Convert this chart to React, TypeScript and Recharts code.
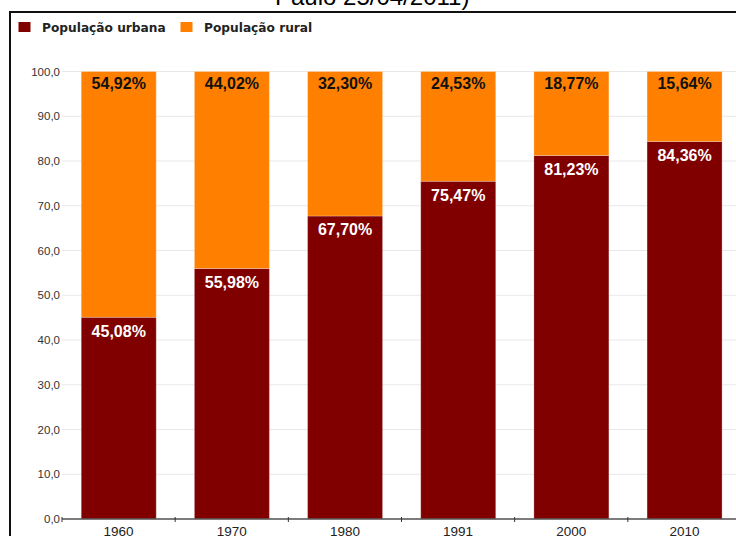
import React from 'react';
import { BarChart, Bar, XAxis, YAxis, CartesianGrid, LabelList } from 'recharts';

const categories = ['1960', '1970', '1980', '1991', '2000', '2010'];
const urbana = [45.08, 55.98, 67.7, 75.47, 81.23, 84.36];
const rural = [54.92, 44.02, 32.3, 24.53, 18.77, 15.64];
const yTicks = [0, 10, 20, 30, 40, 50, 60, 70, 80, 90, 100];
const seriesNames = ['População urbana', 'População rural'];
const seriesColors = ['#800000', '#ff8000'];
const titleText = 'Paulo 25/04/2011)';

const data = categories.map((c, i) => ({ cat: c, urbana: urbana[i], rural: rural[i] }));

const CHART_W = 760;
const CHART_H = 541;
const Y_AXIS_W = 62;
const MARGIN_RIGHT = 19;
const PLOT_W = CHART_W - Y_AXIS_W - MARGIN_RIGHT;
const FONT = '"Liberation Sans", Arial, sans-serif';

const fmtTick = (v: number) => v.toFixed(1).replace('.', ',');
const fmtPct = (v: any) => Number(v).toFixed(2).replace('.', ',') + '%';

const XTick = (props: any) => {
  const { x, y, payload } = props;
  const step = PLOT_W / categories.length;
  const bx = x - step / 2;
  return (
    <g>
      <line x1={bx} x2={bx} y1={y - 2} y2={y + 3} stroke="#333" strokeWidth={1} />
      <text x={x} y={y + 17} textAnchor="middle" fontSize={13.5} fontFamily={FONT} fill="#222">
        {payload.value}
      </text>
    </g>
  );
};

export default function App() {
  return (
    <div style={{ position: 'absolute', left: 0, top: 0, width: 736, height: 536, overflow: 'hidden', background: '#fff' }}>
      <svg width={736} height={536} style={{ position: 'absolute', left: 0, top: 0 }}>
        <text x={275} y={5} fontSize={24} fontFamily={FONT} fill="#000">{titleText}</text>
      </svg>
      <div
        style={{
          position: 'absolute',
          left: 9,
          top: 11,
          width: 760,
          height: 560,
          border: '2px solid #111',
          boxSizing: 'border-box',
        }}
      />
      <div style={{ position: 'absolute', left: 0, top: 0 }}>
        <BarChart
          width={CHART_W}
          height={CHART_H}
          data={data}
          margin={{ top: 71.5, right: MARGIN_RIGHT, left: 0, bottom: 0 }}
          barCategoryGap="17%"
        >
          <CartesianGrid vertical={false} stroke="#e8e8e8" />
          <YAxis
            width={Y_AXIS_W}
            domain={[0, 100]}
            ticks={yTicks}
            tickFormatter={fmtTick}
            axisLine={false}
            tickLine={false}
            tickSize={0}
            tickMargin={2}
            interval={0}
            tick={{ fontSize: 11.5, fontFamily: FONT, fill: '#333' }}
          />
          <XAxis
            dataKey="cat"
            height={22}
            axisLine={{ stroke: '#555', strokeWidth: 1.5 }}
            tickLine={false}
            tickSize={0}
            tickMargin={0}
            interval={0}
            tick={<XTick />}
          />
          <Bar dataKey="urbana" stackId="a" fill={seriesColors[0]} stroke="rgba(255,255,255,0.25)" strokeWidth={1} isAnimationActive={false}>
            <LabelList
              dataKey="urbana"
              position="insideTop"
              offset={8}
              formatter={fmtPct}
              fill="#fff"
              fontSize={16}
              fontWeight="bold"
              fontFamily={FONT}
            />
          </Bar>
          <Bar dataKey="rural" stackId="a" fill={seriesColors[1]} stroke="rgba(255,255,255,0.25)" strokeWidth={1} isAnimationActive={false}>
            <LabelList
              dataKey="rural"
              position="insideTop"
              offset={6}
              formatter={fmtPct}
              fill="#111"
              fontSize={16}
              fontWeight="bold"
              fontFamily={FONT}
            />
          </Bar>
        </BarChart>
      </div>
      <svg width={736} height={60} style={{ position: 'absolute', left: 0, top: 0 }}>
        <rect x={18.5} y={22} width={12} height={10} fill={seriesColors[0]} />
        <text x={42} y={31.5} fontSize={12.2} fontWeight="bold" fontFamily='"DejaVu Sans", sans-serif' fill="#222">
          {seriesNames[0]}
        </text>
        <rect x={180.5} y={22} width={12} height={10} fill={seriesColors[1]} />
        <text x={204} y={31.5} fontSize={12.2} fontWeight="bold" fontFamily='"DejaVu Sans", sans-serif' fill="#222">
          {seriesNames[1]}
        </text>
      </svg>
    </div>
  );
}
